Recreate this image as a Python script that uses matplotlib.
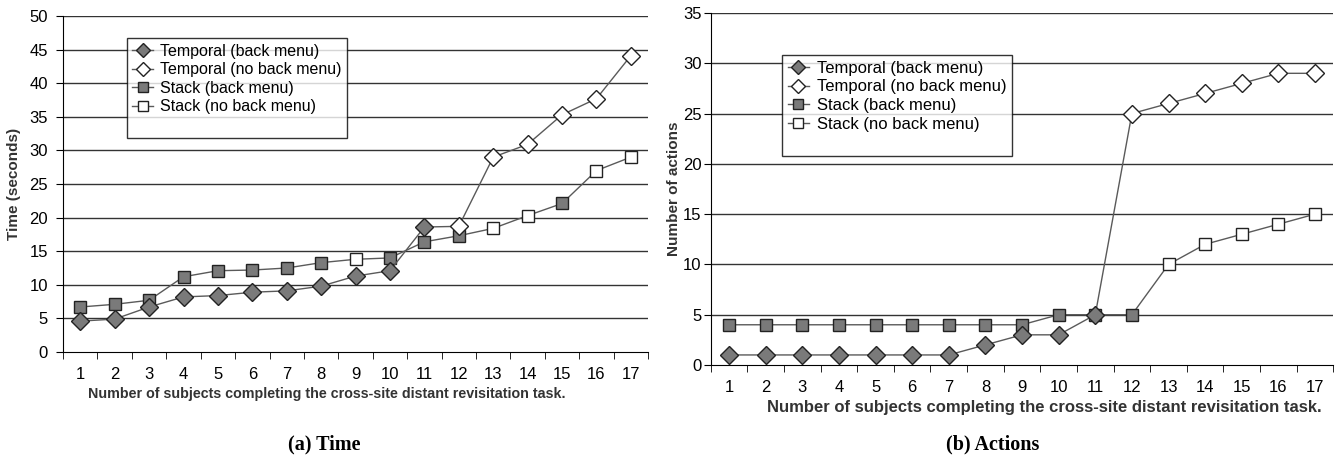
import matplotlib.pyplot as plt
from matplotlib.lines import Line2D

subjects = list(range(1, 18))

# (a) time in seconds, sorted per technique
temporal_time = [4.6, 4.9, 6.7, 8.2, 8.4, 8.9, 9.1, 9.8, 11.3, 12.1, 18.6, 18.7, 29.0, 30.9, 35.3, 37.7, 44.1]
temporal_time_menu = [1, 1, 1, 1, 1, 1, 1, 1, 1, 1, 1, 0, 0, 0, 0, 0, 0]
stack_time = [6.7, 7.1, 7.7, 11.2, 12.1, 12.2, 12.5, 13.3, 13.8, 14.0, 16.4, 17.3, 18.4, 20.3, 22.1, 27.0, 29.0]
stack_time_menu = [1, 1, 1, 1, 1, 1, 1, 1, 0, 1, 1, 1, 0, 0, 1, 0, 0]

# (b) number of actions
temporal_actions = [1, 1, 1, 1, 1, 1, 1, 2, 3, 3, 5, 25, 26, 27, 28, 29, 29]
temporal_actions_menu = [1, 1, 1, 1, 1, 1, 1, 1, 1, 1, 1, 0, 0, 0, 0, 0, 0]
stack_actions = [4, 4, 4, 4, 4, 4, 4, 4, 4, 5, 5, 5, 10, 12, 13, 14, 15]
stack_actions_menu = [1, 1, 1, 1, 1, 1, 1, 1, 1, 1, 1, 1, 0, 0, 0, 0, 0]

legend_labels = ['Temporal (back menu)', 'Temporal (no back menu)',
                 'Stack (back menu)', 'Stack (no back menu)']
xlabel_text = 'Number of subjects completing the cross-site distant revisitation task.'

FILL = '#7a7a7a'
LINE = '#5a5a5a'
EDGE = '#222222'
plt.rcParams['font.family'] = ['Liberation Sans', 'DejaVu Sans']


def draw_series(ax, values, menu, marker, size, z):
    ax.plot(subjects, values, '-', color=LINE, lw=1.0, zorder=z)
    xs_f = [s for s, m in zip(subjects, menu) if m]
    ys_f = [v for v, m in zip(values, menu) if m]
    xs_o = [s for s, m in zip(subjects, menu) if not m]
    ys_o = [v for v, m in zip(values, menu) if not m]
    ax.plot(xs_f, ys_f, linestyle='none', marker=marker, ms=size, mfc=FILL,
            mec=EDGE, mew=1.0, zorder=z + 0.5)
    ax.plot(xs_o, ys_o, linestyle='none', marker=marker, ms=size, mfc='white',
            mec=EDGE, mew=1.0, zorder=z + 0.5)


def style_axes(ax, ymax, ylabel, tick_fs, xl_fs, yl_fs, xl_pos, yl_x, ypad):
    ax.set_xlim(0.5, 17.5)
    ax.set_ylim(0, ymax)
    ax.set_yticks(range(0, ymax + 1, 5))
    ax.set_xticks(subjects)
    ax.set_xticks([s - 0.5 for s in subjects] + [17.5], minor=True)
    ax.tick_params(axis='x', which='major', length=0, pad=11, labelsize=tick_fs)
    ax.tick_params(axis='x', which='minor', length=5, direction='out', color='black')
    ax.tick_params(axis='y', length=5, direction='out', labelsize=tick_fs, pad=ypad)
    for t in range(5, ymax + 1, 5):
        ax.axhline(t, color='#333333', lw=1.0, zorder=1)
    for sp in ['top', 'right']:
        ax.spines[sp].set_visible(False)
    ax.spines['left'].set_color('black')
    ax.spines['bottom'].set_color('black')
    ax.set_xlabel(xlabel_text, fontsize=xl_fs, fontweight='bold', color='#333333')
    ax.xaxis.set_label_coords(*xl_pos)
    ax.set_ylabel(ylabel, fontsize=yl_fs, fontweight='bold', color='#333333')
    ax.yaxis.set_label_coords(yl_x, 0.5)


def add_legend(ax, anchor, fs):
    handles = [
        Line2D([], [], color=LINE, lw=1, marker='D', ms=7.5, mfc=FILL, mec=EDGE),
        Line2D([], [], color=LINE, lw=1, marker='D', ms=7.5, mfc='white', mec=EDGE),
        Line2D([], [], color=LINE, lw=1, marker='s', ms=6.5, mfc=FILL, mec=EDGE),
        Line2D([], [], color=LINE, lw=1, marker='s', ms=6.5, mfc='white', mec=EDGE),
        Line2D([], [], lw=0),
    ]
    leg = ax.legend(handles, legend_labels + [' '], loc='upper left', bbox_to_anchor=anchor,
                    fontsize=fs, frameon=True, fancybox=False, handlelength=1.3,
                    handletextpad=0.45, labelspacing=0.22, borderpad=0.35,
                    borderaxespad=0)
    leg.get_frame().set_edgecolor('black')
    leg.get_frame().set_linewidth(1.0)
    leg.set_zorder(10)


fig = plt.figure(figsize=(13.36, 4.7), dpi=100)
ax1 = fig.add_axes([0.0472, 0.251, 0.4379, 0.715])
ax2 = fig.add_axes([0.532, 0.2234, 0.466, 0.749])

draw_series(ax1, stack_time, stack_time_menu, 's', 8, 3)
draw_series(ax1, temporal_time, temporal_time_menu, 'D', 9, 4)
style_axes(ax1, 50, 'Time (seconds)', 12, 10.3, 11, (0.451, -0.105), -0.072, 6)
add_legend(ax1, (0.109, 0.9345), 11.5)

draw_series(ax2, stack_actions, stack_actions_menu, 's', 8.5, 3)
draw_series(ax2, temporal_actions, temporal_actions_menu, 'D', 9.5, 4)
style_axes(ax2, 35, 'Number of actions', 12, 12, 11, (0.535, -0.098), -0.048, 1.5)
add_legend(ax2, (0.114, 0.881), 12)

fig.text(0.243, 0.055, '(a) Time', ha='center', va='center', fontsize=14.5,
         fontweight='bold', family='Liberation Serif')
fig.text(0.743, 0.055, '(b) Actions', ha='center', va='center', fontsize=14.5,
         fontweight='bold', family='Liberation Serif')

fig.savefig('out.png', dpi=100)
